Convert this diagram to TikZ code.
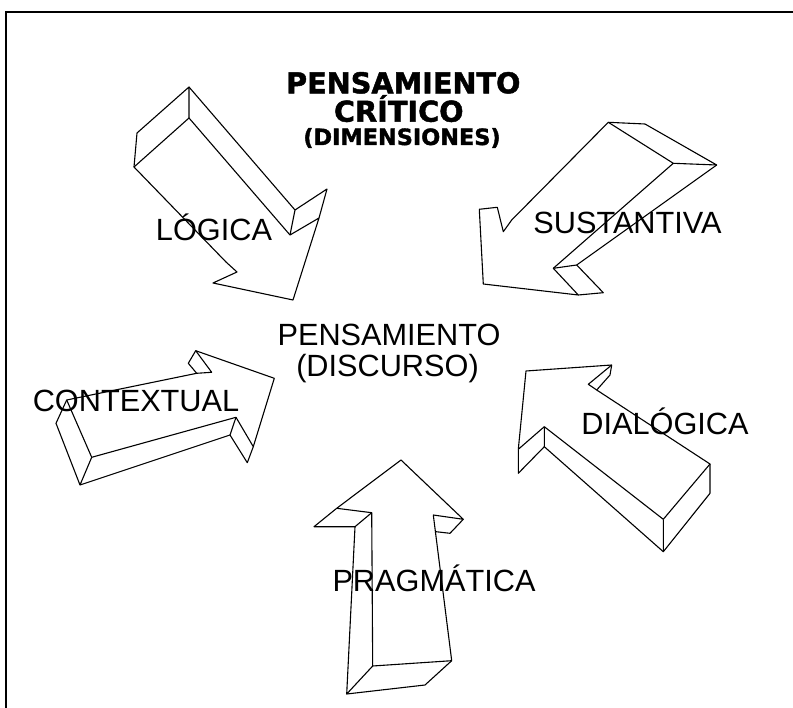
\documentclass[tikz,border=0pt]{standalone}
\usepackage{fontspec}
\setmainfont{Liberation Sans}
\newfontfamily\titlefont{DejaVu Sans}[BoldFeatures={FakeBold=1.6}]
\begin{document}
\begin{tikzpicture}[x=1pt,y=-1pt,
  arr/.style={draw=black, line width=1.1pt, line join=round},
  lbl/.style={font=\fontsize{30.7}{30.7}\selectfont, inner sep=0pt, anchor=base},
  ttl/.style={inner sep=0pt, anchor=base}]
\useasboundingbox (0,0) rectangle (793,708);
\draw[line width=2pt] (6,708) -- (6,12) -- (793,12);

% LOGICA arrow
\draw[arr] (134,167) -- (189,118) -- (290,235) -- (319,218) -- (293,300) -- (213,283) -- (237,272) -- (226,262) -- cycle;
\draw[arr] (189,118) -- (189,87) -- (137,133) -- (134,167);
\draw[arr] (189,87) -- (295,210) -- (290,235);
\draw[arr] (295,210) -- (327,189) -- (319,218);

% SUSTANTIVA arrow
\draw[arr] (608.3,122.3) -- (511.7,220) -- (503.3,231.7) -- (497.3,207.3) -- (479.3,209.3) -- (483.3,284) -- (578.3,295) -- (553.3,268.3) -- (673.3,163.3) -- cycle;
\draw[arr] (608.3,122.3) -- (645,124) -- (716.7,165) -- (673.3,163.3);
\draw[arr] (716.7,165) -- (576.7,265) -- (603.3,292.7) -- (578.3,295);
\draw[arr] (553.3,268.3) -- (576.7,265);

% CONTEXTUAL arrow
\draw[arr] (66.7,400) -- (196.7,373.3) -- (188.3,363.3) -- (195.7,350.7) -- (274.3,378.3) -- (253.3,446.7) -- (236,417.3) -- (91.7,457.3) -- cycle;
\draw[arr] (195.7,350.7) -- (211.7,372.3) -- (196.7,373.3);
\draw[arr] (253.3,446.7) -- (247.3,462.7) -- (230,435) -- (236,417.3);
\draw[arr] (230,435) -- (80,485) -- (91.7,457.3);
\draw[arr] (80,485) -- (56,423.3) -- (66.7,400);

% DIALOGICA arrow
\draw[arr] (526,371) -- (611.7,365) -- (588.3,384.3) -- (596.7,390) -- (710,464) -- (663.3,519.3) -- (544.3,426.7) -- (518.3,449.3) -- cycle;
\draw[arr] (611.7,365) -- (610,375) -- (596.7,390);
\draw[arr] (710,464) -- (710,493.3) -- (663.3,551.7) -- (663.3,519.3);
\draw[arr] (663.3,551.7) -- (544.3,446.7) -- (544.3,426.7);
\draw[arr] (544.3,446.7) -- (518.3,473.3) -- (518.3,449.3);

% PRAGMATICA arrow
\draw[arr] (401,460) -- (463.3,519.3) -- (433.3,515) -- (451.7,660.7) -- (372.7,666) -- (371.7,512.7) -- (336.7,508.3) -- cycle;
\draw[arr] (463.3,519.3) -- (450,533.3) -- (436,531.7);
\draw[arr] (336.7,508.3) -- (314,526.7) -- (355,526.7) -- (371.7,512.7);
\draw[arr] (355,526.7) -- (346.7,694) -- (372.7,666);
\draw[arr] (346.7,694) -- (425,685) -- (451.7,660.7);

% titles
\node[ttl, font=\titlefont\bfseries\fontsize{28.7}{28.7}\selectfont] (t1) at (403.3,93.3) {PENSAMIENTO};
\node[ttl, font=\titlefont\bfseries\fontsize{28.7}{28.7}\selectfont] (t2) at (398.8,121.7) {CRÍTICO};
\node[ttl, font=\titlefont\bfseries\fontsize{22.4}{22.4}\selectfont] (t3) at (402,145) {(DIMENSIONES)};

% center
\node[lbl] (c1) at (389,346) {PENSAMIENTO};
\node[lbl] (c2) at (387.5,376.7) {(DISCURSO)};

% labels
\node[lbl] (logica) at (214,241) {LÓGICA};
\node[lbl] (sust) at (627.5,234) {SUSTANTIVA};
\node[lbl] (cont) at (136,411.7) {CONTEXTUAL};
\node[lbl] (dial) at (665,435) {DIALÓGICA};
\node[lbl] (prag) at (434,591.7) {PRAGMÁTICA};
\end{tikzpicture}
\end{document}
